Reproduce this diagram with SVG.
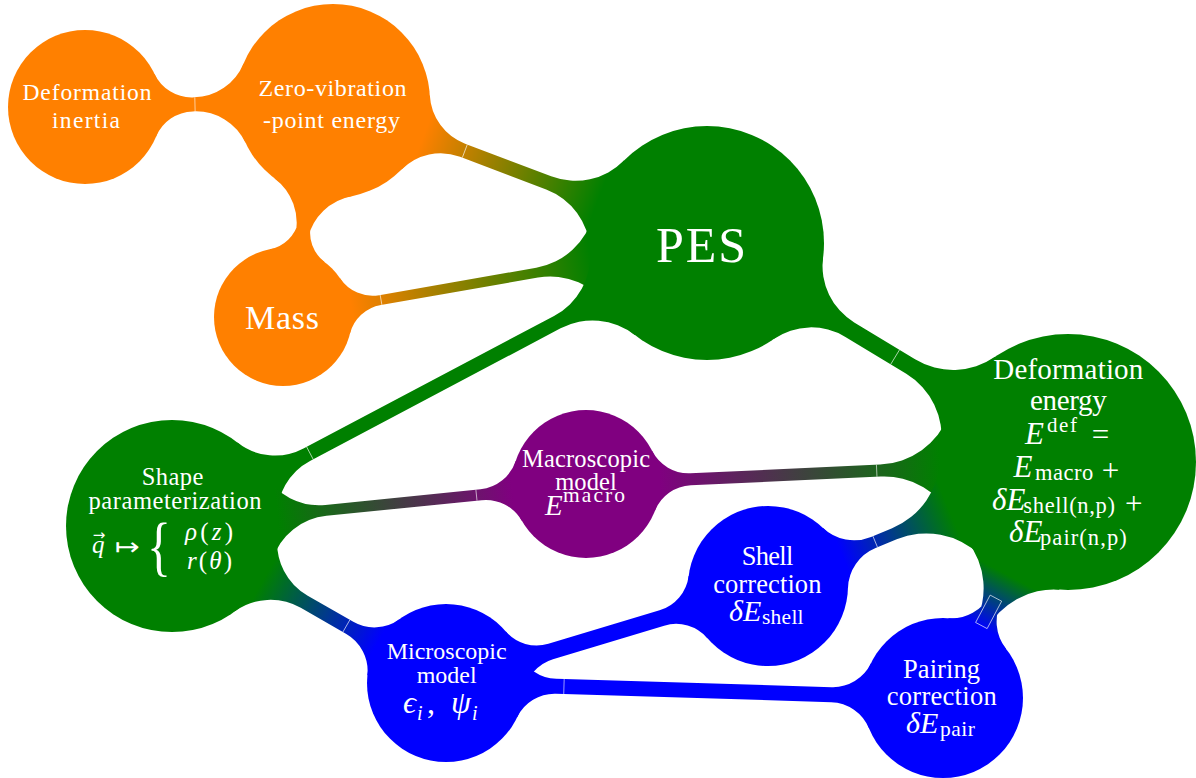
<svg xmlns="http://www.w3.org/2000/svg" width="1196" height="778" viewBox="0 0 1196 778">
<defs>
<style>
text{font-family:"Liberation Serif","DejaVu Serif",serif;fill:#fff}
.it{font-style:italic}
.c{text-anchor:middle}
.sym{font-family:"DejaVu Sans","DejaVu Serif",sans-serif}
.seam{stroke:#fff;stroke-width:.7;stroke-opacity:.85;fill:none}
</style>
<!-- bar shadings, given in each connector's own frame (x runs from one centre to the other) -->
<linearGradient id="g-zp" gradientUnits="userSpaceOnUse" x1="97" y1="0" x2="283.05" y2="0"><stop offset="0" stop-color="#ff8000"/><stop offset="1" stop-color="#008000"/></linearGradient>
<linearGradient id="g-mp" gradientUnits="userSpaceOnUse" x1="69" y1="0" x2="313.41" y2="0"><stop offset="0" stop-color="#ff8000"/><stop offset="1" stop-color="#008000"/></linearGradient>
<linearGradient id="g-sm" gradientUnits="userSpaceOnUse" x1="106" y1="0" x2="342.12" y2="0"><stop offset="0" stop-color="#008000"/><stop offset="1" stop-color="#800080"/></linearGradient>
<linearGradient id="g-md" gradientUnits="userSpaceOnUse" x1="74" y1="0" x2="354.5" y2="0"><stop offset="0" stop-color="#800080"/><stop offset="1" stop-color="#008000"/></linearGradient>
<linearGradient id="g-si" gradientUnits="userSpaceOnUse" x1="106" y1="0" x2="236.79" y2="0"><stop offset="0" stop-color="#008000"/><stop offset="1" stop-color="#0000ff"/></linearGradient>
<linearGradient id="g-hd" gradientUnits="userSpaceOnUse" x1="80" y1="0" x2="196.62" y2="0"><stop offset="0" stop-color="#0000ff"/><stop offset="1" stop-color="#008000"/></linearGradient>
<linearGradient id="g-rd" gradientUnits="userSpaceOnUse" x1="80" y1="0" x2="139.06" y2="0"><stop offset="0" stop-color="#0000ff"/><stop offset="1" stop-color="#008000"/></linearGradient>
</defs>

<!-- connection bars: each end is a filleted flare, joined by a straight bar -->
<g id="connectors">
  <g id="c-inertia-zpe" transform="translate(85 107) rotate(-1.386)">
    <path fill="#ff8000" d="M0 0L70.34 -31.32A40.99 40.99 0 0 0 107.79 -7L107.79 7A40.99 40.99 0 0 0 70.34 31.32Z M248.07 0L159.46 39.45A54.69 54.69 0 0 0 109.5 7L109.5 -7A54.69 54.69 0 0 0 159.46 -39.45Z M107.79 -7L109.5 -7L109.5 7L107.79 7Z"/>
    <line class="seam" x1="110" y1="-7" x2="110" y2="7"/>
  </g>
  <g id="c-zpe-pes" transform="translate(333 101) rotate(20.79)">
    <path fill="url(#g-zp)" d="M0 0L88.61 -39.45A54.69 54.69 0 0 0 138.57 -7L138.57 7A54.69 54.69 0 0 0 88.61 39.45Z M400.05 0L293.17 47.58A68.4 68.4 0 0 0 230.69 7L230.69 -7A68.4 68.4 0 0 0 293.17 -47.58Z M138.57 -7L230.69 -7L230.69 7L138.57 7Z"/>
    <line class="seam" x1="141" y1="-7" x2="141" y2="7"/>
  </g>
  <g id="c-zpe-mass" transform="translate(333 101) rotate(103.03)">
    <path fill="#ff8000" d="M0 0L88.61 -39.45A55.54 55.54 0 0 0 139.35 -6.5L139.35 6.5A55.54 55.54 0 0 0 88.61 39.45Z M221.71 0L158.68 28.06A36.34 36.34 0 0 0 125.48 6.5L125.48 -6.5A36.34 36.34 0 0 0 158.68 -28.06Z"/>
  </g>
  <g id="c-mass-pes" transform="translate(283 317) rotate(-9.9)">
    <path fill="url(#g-mp)" d="M0 0L63.03 -28.06A38.87 38.87 0 0 0 98.54 -5L98.54 5A38.87 38.87 0 0 0 63.03 28.06Z M430.41 0L323.53 47.58A71.77 71.77 0 0 0 257.97 5L257.97 -5A71.77 71.77 0 0 0 323.53 -47.58Z M98.54 -5L257.97 -5L257.97 5L98.54 5Z"/>
    <line class="seam" x1="99.5" y1="-5" x2="99.5" y2="5"/>
  </g>
  <g id="c-shape-pes" transform="translate(172 526) rotate(-27.88)">
    <path fill="#008000" d="M0 0L96.83 -43.11A60.86 60.86 0 0 0 152.43 -7L152.43 7A60.86 60.86 0 0 0 96.83 43.11Z M605.24 0L498.36 47.58A68.4 68.4 0 0 0 435.88 7L435.88 -7A68.4 68.4 0 0 0 498.36 -47.58Z M152.43 -7L435.88 -7L435.88 7L152.43 7Z"/>
    <line class="seam" x1="156" y1="-7" x2="156" y2="7"/>
  </g>
  <g id="c-shape-macro" transform="translate(172 526) rotate(-5.79)">
    <path fill="url(#g-sm)" d="M0 0L96.83 -43.11A63.39 63.39 0 0 0 154.74 -5.5L154.74 5.5A63.39 63.39 0 0 0 96.83 43.11Z M416.12 0L348.52 30.1A41.46 41.46 0 0 0 310.65 5.5L310.65 -5.5A41.46 41.46 0 0 0 348.52 -30.1Z M154.74 -5.5L310.65 -5.5L310.65 5.5L154.74 5.5Z"/>
    <line class="seam" x1="306" y1="-5.5" x2="306" y2="5.5"/>
  </g>
  <g id="c-macro-defe" transform="translate(586 484) rotate(-2.61)">
    <path fill="url(#g-md)" d="M0 0L67.6 -30.1A40.62 40.62 0 0 0 104.71 -6L104.71 6A40.62 40.62 0 0 0 67.6 30.1Z M482.5 0L365.57 52.06A77.63 77.63 0 0 0 294.66 6L294.66 -6A77.63 77.63 0 0 0 365.57 -52.06Z M104.71 -6L294.66 -6L294.66 6L104.71 6Z"/>
    <line class="seam" x1="291" y1="-6" x2="291" y2="6"/>
  </g>
  <g id="c-pes-defe" transform="translate(707 243) rotate(31.25)">
    <path fill="#008000" d="M0 0L106.88 -47.58A65.87 65.87 0 0 0 167.05 -8.5L167.05 8.5A65.87 65.87 0 0 0 106.88 47.58Z M422.23 0L305.3 52.06A73.42 73.42 0 0 0 238.23 8.5L238.23 -8.5A73.42 73.42 0 0 0 305.3 -52.06Z M167.05 -8.5L238.23 -8.5L238.23 8.5L167.05 8.5Z"/>
    <line class="seam" x1="220" y1="-8.5" x2="220" y2="8.5"/>
  </g>
  <g id="c-shape-micro" transform="translate(172 526) rotate(29.82)">
    <path fill="url(#g-si)" d="M0 0L96.83 -43.11A60.86 60.86 0 0 0 152.43 -7L152.43 7A60.86 60.86 0 0 0 96.83 43.11Z M315.79 0L243.62 32.13A42.36 42.36 0 0 0 204.93 7L204.93 -7A42.36 42.36 0 0 0 243.62 -32.13Z M152.43 -7L204.93 -7L204.93 7L152.43 7Z"/>
    <line class="seam" x1="201" y1="-7" x2="201" y2="7"/>
  </g>
  <g id="c-micro-shell" transform="translate(446 683) rotate(-16.76)">
    <path fill="#0000ff" d="M0 0L72.17 -32.13A40.67 40.67 0 0 0 109.32 -8L109.32 8A40.67 40.67 0 0 0 72.17 32.13Z M336.29 0L263.21 32.54A41.36 41.36 0 0 0 225.43 8L225.43 -8A41.36 41.36 0 0 0 263.21 -32.54Z M109.32 -8L225.43 -8L225.43 8L109.32 8Z"/>
  </g>
  <g id="c-micro-pairing" transform="translate(446 683) rotate(1.73)">
    <path fill="#0000ff" d="M0 0L72.17 -32.13A41.51 41.51 0 0 0 110.09 -7.5L110.09 7.5A41.51 41.51 0 0 0 72.17 32.13Z M497.23 0L424.15 32.54A42.2 42.2 0 0 0 385.6 7.5L385.6 -7.5A42.2 42.2 0 0 0 424.15 -32.54Z M110.09 -7.5L385.6 -7.5L385.6 7.5L110.09 7.5Z"/>
    <line class="seam" x1="118" y1="-7.5" x2="118" y2="7.5" stroke-opacity=".35"/>
  </g>
  <g id="c-shell-defe" transform="translate(768 586) rotate(-22.46)">
    <path fill="url(#g-hd)" d="M0 0L73.08 -32.54A44.73 44.73 0 0 0 113.94 -6L113.94 6A44.73 44.73 0 0 0 73.08 32.54Z M324.62 0L207.69 52.06A77.63 77.63 0 0 0 136.78 6L136.78 -6A77.63 77.63 0 0 0 207.69 -52.06Z M113.94 -6L136.78 -6L136.78 6L113.94 6Z"/>
    <line class="seam" x1="116" y1="-6" x2="116" y2="6"/>
  </g>
  <g id="c-pairing-defe" transform="translate(943 698) rotate(-62.09)">
    <path fill="url(#g-rd)" d="M0 0L73.08 -32.54A43.89 43.89 0 0 0 113.17 -6.5L113.17 6.5A43.89 43.89 0 0 0 73.08 32.54Z M267.06 0L150.13 52.06A76.79 76.79 0 0 0 79.98 6.5L79.98 -6.5A76.79 76.79 0 0 0 150.13 -52.06Z"/>
    <rect class="seam" x="82" y="-6.5" width="31" height="13"/>
  </g>
</g>

<g id="n-deformation-inertia">
  <circle cx="85" cy="107" r="77" fill="#ff8000"/>
  <text class="c" x="87" y="100" font-size="23.5" textLength="129" lengthAdjust="spacing">Deformation</text>
  <text class="c" x="86" y="128" font-size="23.5" textLength="68" lengthAdjust="spacing">inertia</text>
</g>
<g id="n-zero-point">
  <circle cx="333" cy="101" r="97" fill="#ff8000"/>
  <text class="c" x="332.5" y="96" font-size="24" textLength="148" lengthAdjust="spacing">Zero-vibration</text>
  <text class="c" x="331.5" y="128" font-size="24" textLength="137" lengthAdjust="spacing">-point energy</text>
</g>
<g id="n-mass">
  <circle cx="283" cy="317" r="69" fill="#ff8000"/>
  <text class="c" x="282" y="329" font-size="34" textLength="74" lengthAdjust="spacing">Mass</text>
</g>
<g id="n-pes">
  <circle cx="707" cy="243" r="117" fill="#008000"/>
  <text class="c" x="701" y="262" font-size="50" textLength="90" lengthAdjust="spacing">PES</text>
</g>
<g id="n-shape">
  <circle cx="172" cy="526" r="106" fill="#008000"/>
  <text class="c" x="172.5" y="485" font-size="24.5" textLength="61.6" lengthAdjust="spacing">Shape</text>
  <text class="c" x="175" y="509" font-size="24.5" textLength="173" lengthAdjust="spacing">parameterization</text>
  <text class="it" x="92" y="553" font-size="25">q</text>
  <text class="sym c" x="99" y="540" font-size="15">→</text>
  <text class="sym" x="115" y="555" font-size="24" textLength="25" lengthAdjust="spacingAndGlyphs">↦</text>
  <text transform="translate(147 568) scale(1 1.3)" font-size="50">{</text>
  <text x="185" y="540" font-size="25" textLength="48" lengthAdjust="spacing"><tspan class="it">ρ</tspan>(<tspan class="it">z</tspan>)</text>
  <text x="187" y="569" font-size="25" textLength="45" lengthAdjust="spacing"><tspan class="it">r</tspan>(<tspan class="it">θ</tspan>)</text>
</g>
<g id="n-macro">
  <circle cx="586" cy="484" r="74" fill="#800080"/>
  <text class="c" x="586" y="467" font-size="24.5" textLength="128" lengthAdjust="spacing">Macroscopic</text>
  <text class="c" x="586" y="490" font-size="24.5" textLength="61.7" lengthAdjust="spacing">model</text>
  <text class="it" x="545" y="515" font-size="29">E</text>
  <text x="563" y="502" font-size="21.5" textLength="62" lengthAdjust="spacing">macro</text>
</g>
<g id="n-micro">
  <circle cx="446" cy="683" r="79" fill="#0000ff"/>
  <text class="c" x="446.7" y="659" font-size="24" textLength="120" lengthAdjust="spacing">Microscopic</text>
  <text class="c" x="446.7" y="683" font-size="24" textLength="60" lengthAdjust="spacing">model</text>
  <text x="403" y="713" font-size="32"><tspan class="it">ϵ</tspan><tspan class="it" x="417" y="720" font-size="20">i</tspan><tspan x="427" y="713">,</tspan><tspan class="it" x="451">ψ</tspan><tspan class="it" x="472" y="720" font-size="20">i</tspan></text>
</g>
<g id="n-shell">
  <circle cx="768" cy="586" r="80" fill="#0000ff"/>
  <text class="c" x="767.5" y="565" font-size="26.5" textLength="51.7" lengthAdjust="spacing">Shell</text>
  <text class="c" x="767.3" y="593" font-size="26.5" textLength="108.3" lengthAdjust="spacing">correction</text>
  <text class="it" x="729" y="621" font-size="30">δE</text>
  <text x="762" y="624" font-size="21.5" textLength="41.6" lengthAdjust="spacing">shell</text>
</g>
<g id="n-pairing">
  <circle cx="943" cy="698" r="80" fill="#0000ff"/>
  <text class="c" x="941.5" y="678" font-size="26.5" textLength="77" lengthAdjust="spacing">Pairing</text>
  <text class="c" x="941.7" y="705" font-size="26.5" textLength="110" lengthAdjust="spacing">correction</text>
  <text class="it" x="906" y="733" font-size="30">δE</text>
  <text x="940" y="736" font-size="21.5" textLength="35" lengthAdjust="spacing">pair</text>
</g>
<g id="n-deformation-energy">
  <circle cx="1068" cy="462" r="128" fill="#008000"/>
  <text class="c" x="1068.3" y="379.3" font-size="29" textLength="150" lengthAdjust="spacing">Deformation</text>
  <text class="c" x="1068.3" y="410" font-size="29" textLength="76.7" lengthAdjust="spacing">energy</text>
  <text class="it" x="1025" y="444" font-size="31">E</text>
  <text x="1047" y="432" font-size="21" textLength="30" lengthAdjust="spacing">def</text>
  <text x="1091.7" y="445" font-size="31">=</text>
  <text class="it" x="1013.5" y="477" font-size="31">E</text>
  <text x="1035" y="480" font-size="22.5" textLength="58.3" lengthAdjust="spacing">macro</text>
  <text x="1101.7" y="481" font-size="31">+</text>
  <text class="it" x="992" y="510" font-size="31">δE</text>
  <text x="1023.3" y="513" font-size="22.5" textLength="91.7" lengthAdjust="spacing">shell(n,p)</text>
  <text x="1125" y="514" font-size="31">+</text>
  <text class="it" x="1009" y="541.7" font-size="31">δE</text>
  <text x="1040" y="545" font-size="22.5" textLength="86.7" lengthAdjust="spacing">pair(n,p)</text>
</g>
</svg>
